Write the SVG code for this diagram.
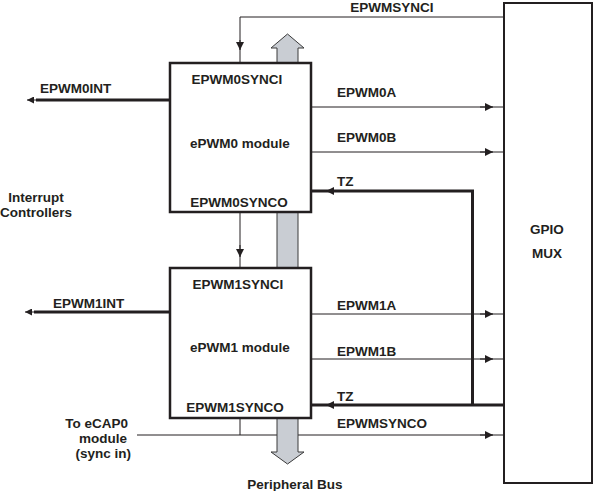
<svg xmlns="http://www.w3.org/2000/svg" width="593" height="491" viewBox="0 0 593 491">
<defs>
<style>
text{font-family:"Liberation Sans",Arial,sans-serif;font-weight:bold;font-size:13.5px;fill:#231f20}
.box{fill:#fff;stroke:#231f20;stroke-width:2.5}
.thin{fill:none;stroke:#231f20;stroke-width:1}
.bold{fill:none;stroke:#231f20;stroke-width:3}
.ah{fill:#231f20;stroke:none}
.bus{fill:#c9cdd3;stroke:#3a3a3a;stroke-width:1}
.m{text-anchor:middle}
.e{text-anchor:end}
</style>
<marker id="arr" viewBox="0 0 10 10" refX="10" refY="5" markerWidth="9" markerHeight="8" markerUnits="userSpaceOnUse" orient="auto"><path d="M0,0 L10,5 L0,10 z" class="ah"/></marker>
<marker id="arrB" viewBox="0 0 10 10" refX="10" refY="5" markerWidth="8" markerHeight="7" markerUnits="userSpaceOnUse" orient="auto"><path d="M0,0 L10,5 L0,10 z" class="ah"/></marker>
</defs>

<g id="connectors">
<path class="thin" d="M504,17 H240 V63"/>
<path class="thin" d="M240,40 V50" marker-end="url(#arr)"/>
<path class="thin" d="M240,212 V268"/>
<path class="thin" d="M240,245 V257" marker-end="url(#arr)"/>
<path class="thin" d="M311,107 H504"/><path class="thin" d="M480,107 H493" marker-end="url(#arr)"/>
<path class="thin" d="M311,152 H504"/><path class="thin" d="M480,152 H493" marker-end="url(#arr)"/>
<path class="thin" d="M311,314 H504"/><path class="thin" d="M480,314 H493" marker-end="url(#arr)"/>
<path class="thin" d="M311,359 H504"/><path class="thin" d="M480,359 H493" marker-end="url(#arr)"/>
<path class="thin" d="M240,418 V435"/>
<path class="thin" d="M137,435 H504"/><path class="thin" d="M480,435 H493" marker-end="url(#arr)"/>
<path class="bold" d="M504,405 H312"/>
<path class="bold" d="M472.5,405 V191 H312"/>
<path class="thin" d="M335,191 H326" marker-end="url(#arr)"/>
<path class="thin" d="M335,405 H326" marker-end="url(#arr)"/>
<path class="bold" d="M169,100 H36"/>
<path class="thin" d="M40,100 H27" marker-end="url(#arrB)"/>
<path class="bold" d="M169,312 H34"/>
<path class="thin" d="M38,312 H25" marker-end="url(#arrB)"/>
</g>

<g id="peripheral-bus">
<path class="bus" d="M277,63 V48 H271 L287.5,34 L304,48 H298 V63 Z"/>
<rect class="bus" x="277" y="212" width="21" height="56"/>
<path class="bus" d="M277,418 V452 H271 L287.5,464 L304,452 H298 V418 Z"/>
<text class="m" x="295" y="489">Peripheral Bus</text>
</g>

<g id="epwm0">
<rect class="box" x="170" y="63" width="141" height="149"/>
<text class="m" x="237" y="84">EPWM0SYNCI</text>
<text class="m" x="240" y="148">ePWM0 module</text>
<text class="m" x="239" y="207">EPWM0SYNCO</text>
</g>

<g id="epwm1">
<rect class="box" x="170" y="268" width="141" height="150"/>
<text class="m" x="238" y="289">EPWM1SYNCI</text>
<text class="m" x="240" y="352">ePWM1 module</text>
<text class="m" x="235" y="412">EPWM1SYNCO</text>
</g>

<g id="gpio-mux">
<rect x="504" y="3" width="88" height="480" fill="#fff" stroke="#231f20" stroke-width="2"/>
<text class="m" x="547" y="234">GPIO</text>
<text class="m" x="547" y="258">MUX</text>
</g>

<g id="labels">
<text class="m" x="392" y="11.5">EPWMSYNCI</text>
<text x="337" y="97">EPWM0A</text>
<text x="337" y="142">EPWM0B</text>
<text x="337" y="186">TZ</text>
<text x="337" y="310">EPWM1A</text>
<text x="337" y="356">EPWM1B</text>
<text x="337" y="401">TZ</text>
<text x="337" y="428">EPWMSYNCO</text>
<text x="40" y="93">EPWM0INT</text>
<text x="53" y="308">EPWM1INT</text>
<text class="m" x="36" y="202">Interrupt</text>
<text class="m" x="36" y="217">Controllers</text>
<text class="e" x="128" y="428">To eCAP0</text>
<text class="e" x="127" y="443">module</text>
<text class="e" x="131" y="458">(sync in)</text>
</g>
</svg>
